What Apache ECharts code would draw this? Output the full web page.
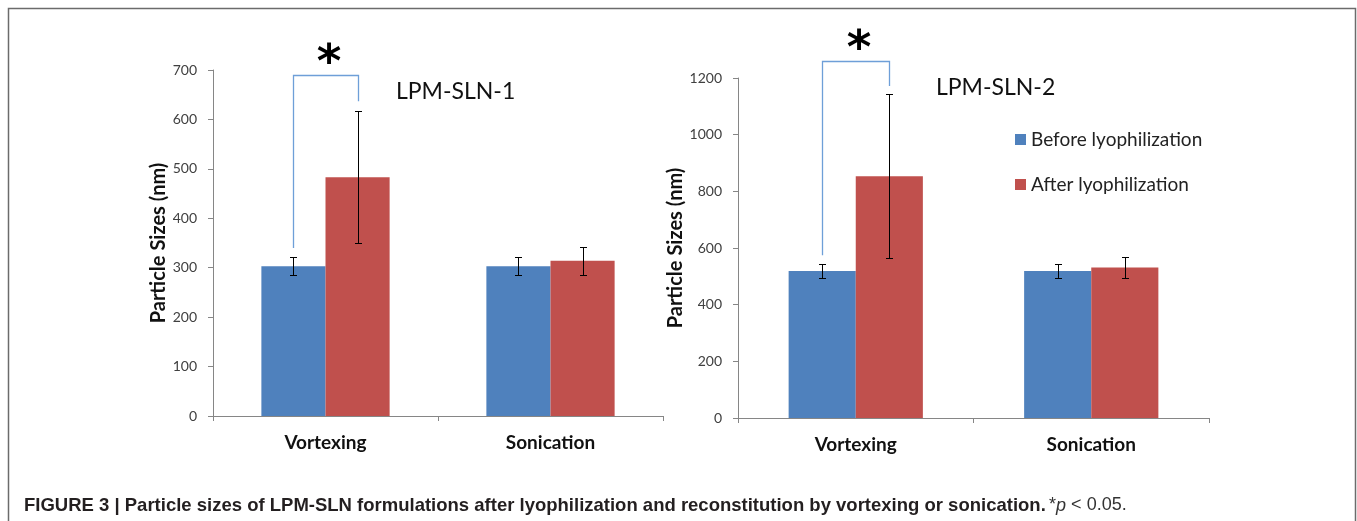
<!DOCTYPE html>
<html><head><meta charset="utf-8">
<script src="https://cdn.jsdelivr.net/npm/echarts@6/dist/echarts.min.js"></script>
<style>html,body{margin:0;padding:0;background:#fff}#c{width:1357px;height:521px}</style>
</head><body><div id="c"></div>
<script>
// ---- data ----
const categories = ['Vortexing', 'Sonication'];
const seriesNames = ['Before lyophilization', 'After lyophilization'];
const sln1Before = [303, 303];
const sln1BeforeErr = [18, 18];
const sln1After = [483, 314];
const sln1AfterErr = [134, 28];
const sln2Before = [519, 519];
const sln2BeforeErr = [25, 25];
const sln2After = [853, 531];
const sln2AfterErr = [290, 38];
// significance bracket: [category index, left foot, top, right foot] in nm
const sln1Bracket = [0, 340, 690, 637];
const sln2Bracket = [0, 574, 1260, 1172];
const sln1Axis = [0, 700, 100];   // min, max, interval
const sln2Axis = [0, 1200, 200];
const titles = ['LPM-SLN-1', 'LPM-SLN-2'];
const yTitle = 'Particle Sizes (nm)';
const sigMark = '*';

const BLUE = '#4F81BD', RED = '#C0504D', GAP = 0.43;
const CAL = 'Lato, "Open Sans", sans-serif';
const AXIS = '#868686';

function errSeries(xi, vals, errs, sign) {
  return {
    type: 'custom', name: 'err' + xi + sign, xAxisIndex: xi, yAxisIndex: xi, clip: false, z: 5,
    data: vals.map((v, i) => [i, v - errs[i], v + errs[i]]),
    renderItem: function (params, api) {
      const c = api.value(0);
      const lo = api.coord([c, api.value(1)]);
      const hi = api.coord([c, api.value(2)]);
      const cw = api.size([1, 0])[0];
      const x = Math.round(lo[0] + sign * cw * (1 - GAP) / 4) + 0.5;
      const st = { stroke: '#000', lineWidth: 1 };
      const yl = Math.round(lo[1]) + 0.5, yh = Math.round(hi[1]) + 0.5;
      return { type: 'group', children: [
        { type: 'line', shape: { x1: x, y1: yh, x2: x, y2: yl }, style: st },
        { type: 'line', shape: { x1: x - 3.5, y1: yh, x2: x + 3.5, y2: yh }, style: st },
        { type: 'line', shape: { x1: x - 3.5, y1: yl, x2: x + 3.5, y2: yl }, style: st }
      ]};
    }
  };
}
function bracketSeries(xi, br) {
  return {
    type: 'custom', name: 'br' + xi, xAxisIndex: xi, yAxisIndex: xi, clip: false, z: 6,
    data: [br],
    renderItem: function (params, api) {
      const c = api.value(0);
      const p1 = api.coord([c, api.value(1)]);
      const pt = api.coord([c, api.value(2)]);
      const p2 = api.coord([c, api.value(3)]);
      const cw = api.size([1, 0])[0];
      const off = cw * (1 - GAP) / 4;
      const xl = Math.round(p1[0] - off) + 0.5, xr = Math.round(p1[0] + off) + 0.5;
      const yt = Math.round(pt[1]) + 0.5;
      return { type: 'group', children: [
        { type: 'polyline', shape: { points: [[xl, p1[1]], [xl, yt], [xr, yt], [xr, p2[1]]] },
          style: { stroke: '#6E9FD8', lineWidth: 1.3, fill: null } },
        { type: 'text', style: { text: sigMark, x: (xl + xr) / 2 + 3, y: yt + 13,
          align: 'center', verticalAlign: 'bottom', fill: '#000',
          font: 'bold 47px "DejaVu Sans", sans-serif' } }
      ]};
    }
  };
}
function yAx(gi, ax, gap) {
  return {
    type: 'value', gridIndex: gi, min: ax[0], max: ax[1], interval: ax[2],
    splitLine: { show: false },
    axisLine: { show: true, lineStyle: { color: AXIS, width: 1 } },
    axisTick: { show: true, length: 5, lineStyle: { color: AXIS } },
    axisLabel: { color: '#404040', fontFamily: CAL, fontSize: 14, margin: 16, formatter: v => String(v) },
    name: yTitle, nameLocation: 'middle', nameRotate: 90, nameGap: gap,
    nameTextStyle: { color: '#111', fontFamily: CAL, fontWeight: 'bold', fontSize: 20 }
  };
}
function xAx(gi) {
  return {
    type: 'category', gridIndex: gi, data: categories,
    axisLine: { lineStyle: { color: AXIS, width: 1 } },
    axisTick: { show: true, length: 5, lineStyle: { color: AXIS } },
    axisLabel: { color: '#111', fontFamily: CAL, fontWeight: 'bold', fontSize: 19, margin: 17 }
  };
}
function bar(xi, name, vals, color) {
  return { type: 'bar', name: name, xAxisIndex: xi, yAxisIndex: xi, data: vals,
    barGap: 0, barCategoryGap: (GAP * 100) + '%', itemStyle: { color: color } };
}

const chart = echarts.init(document.getElementById('c'), null, { renderer: 'canvas' });
chart.setOption({
  animation: false,
  backgroundColor: '#fff',
  grid: [
    { left: 213, top: 70, width: 450, height: 346 },
    { left: 738, top: 78, width: 471, height: 340 }
  ],
  xAxis: [xAx(0), xAx(1)],
  yAxis: [yAx(0, sln1Axis, 43), yAx(1, sln2Axis, 48)],
  legend: {
    data: seriesNames, orient: 'vertical', left: 1015, top: 130, itemGap: 26, padding: 0,
    itemWidth: 11, itemHeight: 11, icon: 'rect', itemStyle: { borderWidth: 0 },
    textStyle: { color: '#222', fontFamily: CAL, fontSize: 19, padding: [0, 0, 0, 0] }
  },
  title: [
    { text: titles[0], left: 396, top: 80, textStyle: { fontFamily: CAL, fontWeight: 'normal', fontSize: 23, color: '#111' }, padding: 0 },
    { text: titles[1], left: 936, top: 76, textStyle: { fontFamily: CAL, fontWeight: 'normal', fontSize: 23, color: '#111' }, padding: 0 }
  ],
  graphic: [
    { type: 'rect', shape: { x: 8.5, y: 8.5, width: 1347, height: 600 }, silent: true,
      style: { fill: null, stroke: '#6b6b6b', lineWidth: 1.5 } },
    { type: 'text', left: 24, top: 496, silent: true,
      style: {
        text: '{b|FIGURE 3 | Particle sizes of LPM-SLN formulations after lyophilization and reconstitution by vortexing or sonication.} {n|*}{i|p}{n| < 0.05.}',
        rich: {
          b: { font: 'bold 18.5px "Liberation Sans", Arial, sans-serif', fill: '#231f20' },
          n: { font: '18px "Liberation Sans", Arial, sans-serif', fill: '#333' },
          i: { font: 'italic 18px "Liberation Sans", Arial, sans-serif', fill: '#333' }
        }
      } }
  ],
  series: [
    bar(0, seriesNames[0], sln1Before, BLUE),
    bar(0, seriesNames[1], sln1After, RED),
    bar(1, seriesNames[0], sln2Before, BLUE),
    bar(1, seriesNames[1], sln2After, RED),
    errSeries(0, sln1Before, sln1BeforeErr, -1),
    errSeries(0, sln1After, sln1AfterErr, 1),
    errSeries(1, sln2Before, sln2BeforeErr, -1),
    errSeries(1, sln2After, sln2AfterErr, 1),
    bracketSeries(0, sln1Bracket),
    bracketSeries(1, sln2Bracket)
  ]
});
</script></body></html>
